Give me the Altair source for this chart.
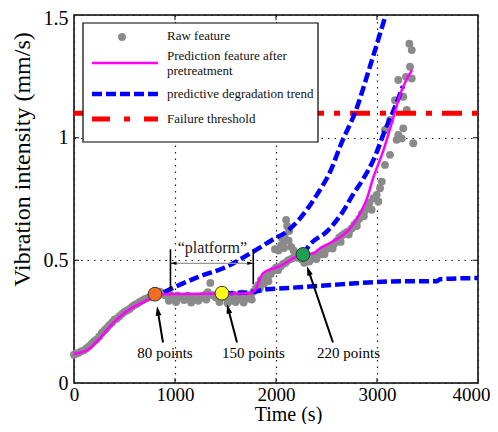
import math
import altair as alt
import pandas as pd

W, H = 404, 368
FONT = "Liberation Serif"

# ---------------- data ----------------
# raw feature (grey dots): main band
raw_t = [0, 25, 50, 75, 100, 125, 150, 175, 200, 225,
         250, 275, 300, 325, 350, 375, 400, 425, 450, 475,
         500, 525, 550, 575, 600, 625, 650, 675, 700, 725,
         750, 775, 800, 825, 850, 875, 900, 925, 950, 975,
         1000, 1025, 1050, 1075, 1100, 1125, 1150, 1175, 1200, 1225,
         1250, 1275, 1300, 1325, 1350, 1375, 1400, 1425, 1450, 1475,
         1500, 1525, 1550, 1575, 1600, 1625, 1650, 1675, 1700, 1725,
         1750, 1775, 1800, 1825, 1850, 1875, 1900, 1925, 1950, 1975,
         2000, 2025, 2050, 2075, 2100, 2110, 2125, 2150, 2175, 2200,
         2225, 2250, 2275, 2300, 2325, 2350, 2375, 2400, 2425, 2450,
         2475, 2500, 2525, 2550, 2575, 2600, 2625, 2650, 2675, 2700,
         2725, 2750, 2775, 2800, 2825, 2850, 2875, 2900, 2925]
raw_v = [0.115, 0.120, 0.124, 0.130, 0.134, 0.142, 0.150, 0.160, 0.170, 0.178,
         0.190, 0.204, 0.214, 0.224, 0.236, 0.246, 0.258, 0.263, 0.272, 0.282,
         0.290, 0.296, 0.302, 0.311, 0.318, 0.323, 0.330, 0.336, 0.342, 0.346,
         0.350, 0.356, 0.362, 0.368, 0.372, 0.366, 0.358, 0.356, 0.362, 0.352,
         0.350, 0.357, 0.348, 0.352, 0.345, 0.356, 0.350, 0.342, 0.348, 0.353,
         0.345, 0.355, 0.360, 0.370, 0.408, 0.358, 0.350, 0.345, 0.352, 0.358,
         0.348, 0.340, 0.335, 0.345, 0.352, 0.348, 0.340, 0.350, 0.355, 0.345,
         0.360, 0.372, 0.385, 0.400, 0.420, 0.410, 0.435, 0.415, 0.445, 0.460,
         0.470, 0.540, 0.560, 0.575, 0.665, 0.640, 0.580, 0.555, 0.540, 0.520,
         0.510, 0.505, 0.515, 0.500, 0.510, 0.505, 0.520, 0.515, 0.530, 0.525,
         0.540, 0.545, 0.555, 0.562, 0.568, 0.578, 0.592, 0.600, 0.608, 0.615,
         0.620, 0.630, 0.645, 0.655, 0.670, 0.690, 0.700, 0.715, 0.735]
# raw feature: extra points thickening the band
band_t = [1990, 2020, 2045, 2070, 2095, 2120, 2145, 2170, 2060, 2085, 2130, 2080,
          940, 1010, 1090, 1160, 1230, 1310, 1440, 1520, 1600, 1680, 1760,
          1580, 1660, 1840, 1880, 1930,
          2280, 2330, 2400, 2480, 2560, 2640, 2720, 2800, 2870]
band_v = [0.545, 0.460, 0.475, 0.485, 0.490, 0.500, 0.505, 0.510, 0.590, 0.600, 0.620, 0.550,
          0.335, 0.330, 0.338, 0.328, 0.335, 0.340, 0.330, 0.325, 0.330, 0.328, 0.340,
          0.360, 0.365, 0.385, 0.405, 0.440,
          0.490, 0.495, 0.505, 0.525, 0.548, 0.575, 0.605, 0.640, 0.680]
# raw feature: scattered late points
late_t = [2947, 2964, 2997, 3013, 3030, 3047, 3079, 3079, 3129, 3129,
          3178, 3195, 3211, 3211, 3245, 3260, 3260, 3287, 3294, 3320,
          3327, 3344, 3344, 3359]
late_v = [0.706, 0.753, 0.767, 0.740, 0.794, 0.821, 0.889, 1.031, 0.930, 1.072,
          1.153, 0.991, 1.011, 1.235, 0.997, 1.038, 1.167, 1.248, 1.113, 1.383,
          1.289, 1.357, 1.241, 0.977]

# prediction feature after pretreatment (magenta)
pred_t = [0, 158, 257, 406, 554, 703, 802, 871, 1743, 1792, 1871, 2040, 2208, 2267,
          2366, 2436, 2564, 2733, 2832, 2901, 2960, 3059, 3158, 3228, 3347]
pred_v = [0.118, 0.142, 0.183, 0.252, 0.301, 0.333, 0.354, 0.362, 0.366, 0.378, 0.447,
          0.476, 0.516, 0.524, 0.528, 0.549, 0.577, 0.630, 0.691, 0.752, 0.833, 0.943,
          1.077, 1.175, 1.276]

# predictive degradation trends (blue dashed)
trendA_t = [890, 950, 1248, 1500, 1772, 1970, 2109, 2238, 2406, 2535, 2650, 2790, 2930, 3079]
trendA_v = [0.370, 0.382, 0.435, 0.472, 0.535, 0.585, 0.618, 0.671, 0.768, 0.860, 0.980,
            1.110, 1.290, 1.490]
trendB_t = [1480, 1743, 1911, 2069, 2634, 3257, 3594, 3624, 4000]
trendB_v = [0.366, 0.370, 0.382, 0.386, 0.402, 0.415, 0.415, 0.423, 0.428]
trendC_t = [2267, 2337, 2505, 2663, 2762, 2861, 2960, 3099, 3158, 3257]
trendC_v = [0.524, 0.565, 0.618, 0.699, 0.768, 0.830, 0.905, 1.050, 1.105, 1.210]

threshold = 1.1

# key points
key_t = [802, 1465, 2267]
key_v = [0.362, 0.366, 0.524]
key_color = ["#f36c21", "#ffff1a", "#1fa050"]

# annotation labels and arrows
lab_text = ["80 points", "150 points", "220 points"]
lab_t = [901, 1777, 2718]
lab_v = [0.122, 0.122, 0.122]
arr_base_t = [881, 1614, 2564]
arr_base_v = [0.165, 0.165, 0.165]
arr_tip_t = [822, 1515, 2307]
arr_tip_v = [0.313, 0.321, 0.476]

plat_left, plat_right = 955, 1775
plat_bottom_v = [0.382, 0.402]
plat_top_v = 0.545
plat_arrow_v = 0.488
plat_text_t, plat_text_v = 1370, 0.552

# ---------------- scales / axes ----------------
xs = alt.Scale(domain=[0, 4000], nice=False, zero=False)
ys = alt.Scale(domain=[0, 1.5], nice=False, zero=False)

xaxis = alt.Axis(values=[0, 1000, 2000, 3000, 4000], format="d", title="Time (s)",
                 grid=True, gridDash=[1.5, 5], gridColor="#222", gridWidth=1.2,
                 ticks=False, domain=False, labelPadding=2, labelFlush=False,
                 labelOffset={"condition": {"test": "datum.value == 4000", "value": -7}, "value": 0},
                 labelOverlap=False, labelFont=FONT, labelFontSize=19, labelColor="black",
                 titleFont=FONT, titleFontSize=20, titleFontWeight="normal", titleColor="black",
                 titleX=214, titleY=31, titleBaseline="middle", titleAlign="center")
yaxis = alt.Axis(values=[0, 0.5, 1, 1.5], format="~g", title="Vibration intensity (mm/s)",
                 grid=True, gridDash=[1.5, 5], gridColor="#222", gridWidth=1.2,
                 ticks=False, domain=False, labelPadding=6, labelFlush=False,
                 labelOffset={"condition": {"test": "datum.value == 1.5", "value": 3}, "value": 0},
                 labelOverlap=False, labelFont=FONT, labelFontSize=20, labelColor="black",
                 titleFont=FONT, titleFontSize=24, titleFontWeight="normal", titleColor="black",
                 titleAngle=270, titleX=-52, titleY=144, titleBaseline="middle", titleAlign="center")

X = alt.X("t:Q", scale=xs, axis=xaxis)
Y = alt.Y("v:Q", scale=ys, axis=yaxis)

raw_df = pd.DataFrame({"t": raw_t + band_t + late_t, "v": raw_v + band_v + late_v})
pred_df = pd.DataFrame({"t": pred_t, "v": pred_v})
trend_df = pd.concat([
    pd.DataFrame({"t": trendA_t, "v": trendA_v, "k": "A"}),
    pd.DataFrame({"t": trendB_t, "v": trendB_v, "k": "B"}),
    pd.DataFrame({"t": trendC_t, "v": trendC_v, "k": "C"}),
])
thr_df = pd.DataFrame({"t": [0], "t2": [4000], "v": [threshold]})
key_df = pd.DataFrame({"t": key_t, "v": key_v, "c": key_color})
lab_df = pd.DataFrame({"t": lab_t, "v": lab_v, "txt": lab_text})

sx, sy = W / 4000.0, H / 1.5


def head(tip_t, tip_v, base_t, base_v, back):
    dx = (tip_t - base_t) * sx
    dy = -(tip_v - base_v) * sy
    L = math.hypot(dx, dy)
    ux, uy = dx / L, dy / L
    ang = math.degrees(math.atan2(ux, -uy)) % 360
    return tip_t - ux * back / sx, tip_v + uy * back / sy, ang


ARROW = "M0,-1L0.55,0.8L-0.55,0.8Z"
big_size = 110
big_back = math.sqrt(big_size) / 2
heads = [head(a, b, c, d, big_back) for a, b, c, d in zip(arr_tip_t, arr_tip_v, arr_base_t, arr_base_v)]
head_df = pd.DataFrame({"t": [h[0] for h in heads], "v": [h[1] for h in heads], "ang": [h[2] for h in heads]})
shaft_df = pd.DataFrame({"t": arr_base_t, "v": arr_base_v,
                         "t2": [h[0] for h in heads], "v2": [h[1] for h in heads]})

small_size = 45
small_back = math.sqrt(small_size) / 2
ph = [head(plat_left, plat_arrow_v, plat_right, plat_arrow_v, small_back),
      head(plat_right, plat_arrow_v, plat_left, plat_arrow_v, small_back)]
phead_df = pd.DataFrame({"t": [h[0] for h in ph], "v": [h[1] for h in ph], "ang": [h[2] for h in ph]})
pline_df = pd.DataFrame({"t": [plat_left], "t2": [plat_right], "v": [plat_arrow_v]})
pvert_df = pd.DataFrame({"t": [plat_left, plat_right], "v": plat_bottom_v, "v2": [plat_top_v, plat_top_v]})
ptext_df = pd.DataFrame({"t": [plat_text_t], "v": [plat_text_v], "txt": ["\u201cplatform\u201d"]})

xt_df = pd.DataFrame({"t": [1000, 2000, 3000]})
yt_df = pd.DataFrame({"v": [0.5, 1.0]})
one = pd.DataFrame({"a": [0]})

# ---------------- layers ----------------
raw = alt.Chart(raw_df).mark_circle(size=62, color="#8a8a8a", opacity=1).encode(x=X, y=Y)
thr = alt.Chart(thr_df).mark_rule(color="#ff0000", strokeWidth=5, strokeDash=[20, 10, 6, 10]).encode(
    x=X, x2="t2:Q", y=Y)
trend = alt.Chart(trend_df).mark_line(color="#0000ff", strokeWidth=4.5, strokeDash=[10, 4],
                                      interpolate="monotone", strokeCap="butt").encode(
    x=X, y=Y, detail="k:N", order="t:Q")
pred = alt.Chart(pred_df).mark_line(color="#ff00ff", strokeWidth=2.5, interpolate="monotone").encode(
    x=X, y=Y, order="t:Q")
keys = alt.Chart(key_df).mark_point(size=190, filled=True, opacity=1, stroke="#333", strokeWidth=1).encode(
    x=X, y=Y, fill=alt.Fill("c:N", scale=None))
shafts = alt.Chart(shaft_df).mark_rule(color="black", strokeWidth=2).encode(x=X, y=Y, x2="t2:Q", y2="v2:Q")
heads_l = alt.Chart(head_df).mark_point(shape=ARROW, size=big_size, filled=True, color="black", opacity=1).encode(
    x=X, y=Y, angle=alt.Angle("ang:Q", scale=None))
labs = alt.Chart(lab_df).mark_text(font=FONT, fontSize=15, color="black", baseline="middle").encode(
    x=X, y=Y, text="txt:N")
pline = alt.Chart(pline_df).mark_rule(color="#999", strokeWidth=1.3).encode(x=X, x2="t2:Q", y=Y)
pvert = alt.Chart(pvert_df).mark_rule(color="black", strokeWidth=1.6).encode(x=X, y=Y, y2="v2:Q")
pheads = alt.Chart(phead_df).mark_point(shape=ARROW, size=small_size, filled=True, color="black", opacity=1).encode(
    x=X, y=Y, angle=alt.Angle("ang:Q", scale=None))
ptext = alt.Chart(ptext_df).mark_text(font=FONT, fontSize=16, color="#222", baseline="middle").encode(
    x=X, y=Y, text="txt:N")

xt_b = alt.Chart(xt_df).mark_tick(orient="vertical", size=5, thickness=1.4, color="black").encode(
    x=X, y=alt.value(H - 2.5))
xt_t = alt.Chart(xt_df).mark_tick(orient="vertical", size=5, thickness=1.4, color="black").encode(
    x=X, y=alt.value(2.5))
yt_l = alt.Chart(yt_df).mark_tick(orient="horizontal", size=5, thickness=1.4, color="black").encode(
    y=Y, x=alt.value(2.5))
yt_r = alt.Chart(yt_df).mark_tick(orient="horizontal", size=5, thickness=1.4, color="black").encode(
    y=Y, x=alt.value(W - 2.5))

# legend (drawn by hand inside the plot)
leg_box = alt.Chart(one).mark_rect(fill="white", stroke="black", strokeWidth=1.2).encode(
    x=alt.value(9), x2=alt.value(244), y=alt.value(8), y2=alt.value(127))
leg_dot = alt.Chart(one).mark_circle(size=62, color="#8a8a8a", opacity=1).encode(
    x=alt.value(48), y=alt.value(22))
leg_pred = alt.Chart(one).mark_rule(color="#ff00ff", strokeWidth=2.5).encode(
    x=alt.value(18), x2=alt.value(84), y=alt.value(48))
leg_trend = alt.Chart(one).mark_rule(color="#0000ff", strokeWidth=4.5, strokeDash=[10, 4]).encode(
    x=alt.value(18), x2=alt.value(84), y=alt.value(79))
leg_thr = alt.Chart(one).mark_rule(color="#ff0000", strokeWidth=5, strokeDash=[18, 14, 6, 14]).encode(
    x=alt.value(18), x2=alt.value(84), y=alt.value(104))
leg_texts = []
for txt, yy in [("Raw feature", 21), ("Prediction feature after", 41), ("pretreatment", 56),
                ("predictive degradation trend", 79), ("Failure threshold", 104)]:
    leg_texts.append(alt.Chart(one).mark_text(font=FONT, fontSize=13, color="#111", align="left",
                                              baseline="middle", text=txt).encode(
        x=alt.value(93), y=alt.value(yy)))

chart = alt.layer(
    raw, thr, trend, pred, pline, pvert, pheads, ptext, shafts, heads_l, keys, labs,
    xt_b, xt_t, yt_l, yt_r,
    leg_box, leg_dot, leg_pred, leg_trend, leg_thr, *leg_texts
).properties(
    width=W, height=H,
    padding={"left": 66, "top": 7, "right": 12, "bottom": 41},
    autosize=alt.AutoSizeParams(type="none"),
    background="white",
).configure_view(stroke="black", strokeWidth=1.5)

chart.save("out.html", embed_options={"renderer": "svg", "actions": False})
